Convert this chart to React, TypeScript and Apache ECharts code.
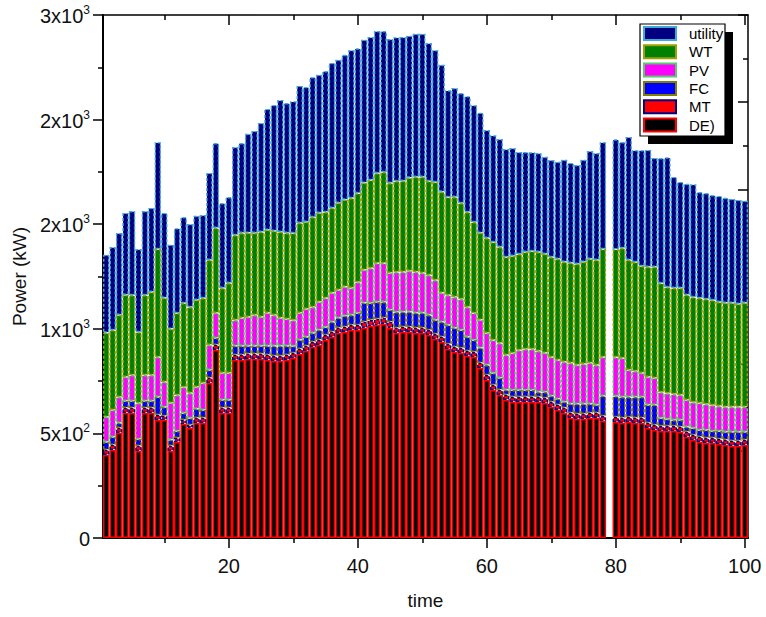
import React, { useEffect, useRef } from "react";
import * as echarts from "echarts";

const times: string[] = Array.from({ length: 100 }, (_, i) => String(i + 1));

const DE = [
  397, 421, 502, 598, 598, 416, 598, 598, 564, 564,
  416, 459, 545, 526, 550, 550, 741, 899, 598, 598,
  851, 851, 856, 856, 856, 851, 846, 846, 851, 860,
  880, 894, 913, 923, 946, 961, 980, 985, 994, 994,
  1004, 1013, 1018, 1023, 1004, 980, 985, 985, 980, 980,
  970, 951, 937, 903, 889, 884, 870, 865, 813, 755,
  707, 684, 660, 650, 650, 650, 650, 650, 645, 626,
  612, 598, 574, 569, 569, 574, 574, 559, null, 554,
  550, 554, 550, 550, 526, 516, 511, 511, 511, 507,
  483, 468, 459, 454, 454, 449, 445, 440, 440, 445,
];

const MT = [
  24, 24, 24, 24, 24, 24, 24, 24, 24, 19,
  24, 19, 19, 14, 24, 24, 24, 24, 24, 24,
  24, 24, 24, 24, 24, 24, 24, 24, 24, 24,
  24, 24, 24, 24, 24, 24, 24, 24, 24, 24,
  29, 29, 29, 29, 29, 24, 24, 24, 24, 24,
  24, 24, 24, 24, 24, 24, 24, 24, 24, 24,
  24, 24, 24, 24, 24, 24, 24, 24, 24, 24,
  24, 24, 24, 24, 24, 24, 24, 24, null, 24,
  24, 24, 24, 24, 24, 24, 24, 24, 24, 24,
  24, 24, 24, 24, 24, 24, 24, 24, 24, 24,
];

const FC = [
  38, 38, 24, 33, 33, 33, 33, 33, 86, 43,
  29, 33, 33, 33, 43, 38, 38, 33, 38, 38,
  43, 43, 38, 38, 38, 43, 48, 48, 43, 33,
  43, 43, 43, 48, 38, 48, 48, 53, 48, 57,
  91, 81, 81, 76, 57, 76, 72, 72, 72, 72,
  72, 67, 72, 91, 91, 86, 67, 57, 72, 48,
  57, 57, 24, 33, 33, 33, 33, 24, 29, 29,
  29, 29, 43, 48, 48, 43, 38, 96, null, 100,
  100, 96, 100, 100, 86, 96, 38, 33, 29, 33,
  24, 33, 33, 38, 33, 38, 38, 43, 43, 38,
];

const PV = [
  120, 129, 124, 115, 124, 172, 124, 124, 191, 120,
  177, 172, 124, 120, 105, 129, 120, 120, 129, 129,
  124, 134, 139, 148, 139, 158, 148, 134, 129, 124,
  129, 134, 124, 134, 139, 139, 134, 139, 129, 148,
  158, 167, 186, 186, 177, 191, 191, 196, 196, 191,
  191, 191, 139, 143, 148, 148, 143, 129, 134, 153,
  158, 167, 167, 177, 191, 196, 196, 196, 187, 186,
  186, 191, 196, 186, 191, 196, 191, 186, null, 186,
  186, 129, 124, 115, 134, 129, 124, 124, 124, 120,
  129, 124, 129, 124, 124, 120, 120, 120, 120, 120,
];

const WT = [
  402, 382, 392, 392, 382, 339, 382, 397, 516, 402,
  354, 392, 402, 411, 416, 406, 406, 406, 406, 430,
  406, 406, 402, 392, 406, 397, 402, 411, 411, 416,
  430, 416, 430, 425, 411, 406, 416, 416, 430, 425,
  416, 421, 430, 435, 430, 435, 435, 445, 454, 459,
  449, 468, 483, 468, 478, 459, 454, 435, 416, 454,
  468, 459, 468, 464, 459, 464, 468, 473, 473, 478,
  483, 478, 478, 483, 488, 497, 502, 516, null, 516,
  526, 526, 521, 511, 526, 531, 521, 507, 507, 511,
  502, 502, 502, 502, 502, 497, 497, 497, 492, 497,
];

const UTILITY = [
  373, 397, 392, 392, 402, 397, 402, 402, 511, 406,
  402, 406, 411, 397, 402, 397, 416, 406, 406, 411,
  421, 430, 473, 488, 521, 578, 602, 631, 621, 631,
  655, 645, 669, 660, 674, 693, 684, 693, 707, 693,
  684, 684, 679, 674, 688, 688, 688, 679, 684, 684,
  660, 631, 607, 511, 521, 526, 554, 559, 574, 516,
  511, 516, 516, 516, 488, 478, 473, 473, 464, 464,
  464, 488, 478, 473, 488, 516, 511, 511, null, 526,
  507, 588, 535, 554, 559, 521, 598, 621, 531, 507,
  531, 540, 507, 507, 502, 507, 502, 497, 497, 488,
];

const yTickValues = [0, 500, 1000, 1500, 2000, 2500];
const yTickMantissa = ["0", "5", "1", "2", "2", "3"];
const yTickExponent = ["", "2", "3", "3", "3", "3"];
const legendOrder = ["utility", "WT", "PV", "FC", "MT", "DE)"];

const FONT = "'Liberation Sans', Arial, Helvetica, sans-serif";

const seriesDefs = [
  { name: "DE)", data: DE, fill: "#000000", border: "#ff0000", type: "solid" as any, width: 1.5 },
  { name: "MT", data: MT, fill: "#ff0000", border: "#000080", type: [3, 2] as any, width: 1.4 },
  { name: "FC", data: FC, fill: "#0000ff", border: "#808000", type: [3, 2] as any, width: 1.4 },
  { name: "PV", data: PV, fill: "#ff00ff", border: "#55cc66", type: [3, 2] as any, width: 1.4 },
  { name: "WT", data: WT, fill: "#008000", border: "#a0a000", type: [3, 2] as any, width: 1.4 },
  { name: "utility", data: UTILITY, fill: "#000080", border: "#3fa9d8", type: [3, 2] as any, width: 1.4 },
];

const isMajor = (i: number) => (i + 1) % 20 === 0;
const isMinor = (i: number) => (i + 1) % 20 === 10;

function xAxisDef(position: "top" | "bottom", major: boolean, primary: boolean) {
  const inside = position === "top";
  return {
    type: "category",
    data: times,
    position,
    boundaryGap: true,
    axisLine: {
      show: primary,
      onZero: false,
      lineStyle: { color: "#000", width: position === "bottom" ? 2 : 1.5 },
    },
    axisTick: {
      show: true,
      alignWithLabel: true,
      inside,
      interval: major ? isMajor : isMinor,
      length: major ? 10 : 5,
      lineStyle: { color: "#000", width: 1.5 },
    },
    axisLabel: {
      show: position === "bottom" && major,
      interval: isMajor,
      margin: 18,
      fontSize: 20,
      color: "#111",
      fontFamily: FONT,
    },
    splitLine: { show: false },
    ...(position === "bottom" && major
      ? {
          name: "time",
          nameLocation: "middle",
          nameGap: 53,
          nameTextStyle: { fontSize: 19, color: "#111", fontFamily: FONT },
        }
      : {}),
  };
}

export default function App() {
  const ref = useRef<HTMLDivElement>(null);
  useEffect(() => {
    const chart = echarts.init(ref.current!, null, { renderer: "svg" });
    const option: any = {
      animation: false,
      textStyle: { fontFamily: FONT },
      grid: { left: 103, right: 18, top: 15, bottom: 79, containLabel: false },
      legend: {
        orient: "vertical",
        left: 643,
        top: 26,
        padding: 0,
        itemWidth: 32,
        itemHeight: 13,
        itemGap: 3.3,
        icon: "rect",
        selectedMode: false,
        data: legendOrder,
        z: 10,
        textStyle: {
          fontSize: 15,
          lineHeight: 15,
          color: "#000",
          fontFamily: FONT,
          padding: [0, 0, 0, 8],
        },
      },
      graphic: [
        {
          type: "rect",
          z: 5,
          shape: { x: 648, y: 32, width: 85, height: 112 },
          style: { fill: "#000" },
        },
        {
          type: "rect",
          z: 6,
          shape: { x: 640, y: 24, width: 85, height: 112 },
          style: { fill: "#fff", stroke: "#000", lineWidth: 1.2 },
        },
      ],
      xAxis: [
        xAxisDef("bottom", true, true),
        xAxisDef("bottom", false, false),
        xAxisDef("top", true, true),
        xAxisDef("top", false, false),
      ],
      yAxis: [
        {
          type: "value",
          position: "left",
          min: 0,
          max: 2500,
          interval: 500,
          axisLine: { show: true, onZero: false, lineStyle: { color: "#000", width: 2 } },
          axisTick: { show: true, length: 10, lineStyle: { color: "#000", width: 1.5 } },
          minorTick: { show: true, splitNumber: 2, length: 5, lineStyle: { color: "#000", width: 1.5 } },
          splitLine: { show: false },
          minorSplitLine: { show: false },
          axisLabel: {
            margin: 13,
            color: "#111",
            fontFamily: FONT,
            formatter: (v: number) => {
              const i = yTickValues.indexOf(v);
              if (i < 0) return "";
              if (!yTickExponent[i]) return `{b|${yTickMantissa[i]}}`;
              return `{b|${yTickMantissa[i]}x10}{s|${yTickExponent[i]}}`;
            },
            rich: {
              b: { fontSize: 20, lineHeight: 22, verticalAlign: "bottom", color: "#111", fontFamily: FONT },
              s: { fontSize: 12, lineHeight: 12, verticalAlign: "top", color: "#111", fontFamily: FONT },
            },
          },
          name: "Power (kW)",
          nameLocation: "middle",
          nameGap: 68,
          nameTextStyle: { fontSize: 19, color: "#111", fontFamily: FONT },
        },
        {
          type: "value",
          position: "right",
          min: 0,
          max: 6,
          interval: 1,
          axisLine: { show: true, onZero: false, lineStyle: { color: "#000", width: 1.5 } },
          axisTick: { show: true, inside: true, length: 10, lineStyle: { color: "#000", width: 1.5 } },
          minorTick: { show: true, splitNumber: 2, length: 5, lineStyle: { color: "#000", width: 1.5 } },
          splitLine: { show: false },
          axisLabel: { show: false },
        },
      ],
      series: seriesDefs.map((s) => ({
        type: "bar",
        name: s.name,
        data: s.data,
        stack: "total",
        xAxisIndex: 0,
        yAxisIndex: 0,
        barCategoryGap: "0%",
        barGap: "0%",
        emphasis: { disabled: true },
        itemStyle: {
          color: s.fill,
          borderColor: s.border,
          borderWidth: s.width,
          borderType: s.type,
        },
      })),
    };
    chart.setOption(option);
    return () => chart.dispose();
  }, []);
  return (
    <div
      ref={ref}
      style={{ position: "fixed", left: 0, top: 0, width: 766, height: 617, background: "#fff" }}
    />
  );
}
